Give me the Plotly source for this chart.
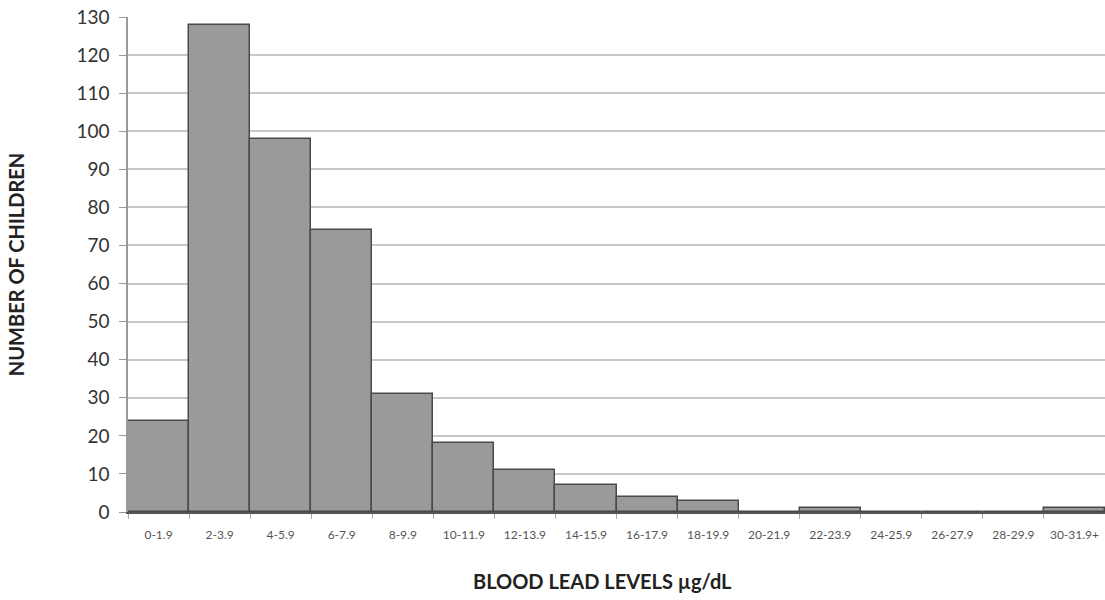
import plotly.graph_objects as go

categories = ["0-1.9", "2-3.9", "4-5.9", "6-7.9", "8-9.9", "10-11.9", "12-13.9", "14-15.9",
              "16-17.9", "18-19.9", "20-21.9", "22-23.9", "24-25.9", "26-27.9", "28-29.9", "30-31.9+"]
children = [24, 128, 98, 74, 31, 18, 11, 7, 4, 3, 0, 1, 0, 0, 0, 1]
y_ticks = list(range(0, 131, 10))

fig = go.Figure()
fig.add_trace(go.Bar(
    x=categories, y=children,
    marker=dict(color="#9a9a9a", line=dict(color="#4a4a4a", width=1.5)),
    hoverinfo="x+y",
))

fig.update_layout(
    width=1105, height=600,
    margin=dict(l=128, r=0, t=17, b=88),
    paper_bgcolor="white", plot_bgcolor="white",
    bargap=0, showlegend=False,
    font=dict(family="Lato, Open Sans, sans-serif", color="#333"),
    annotations=[dict(
        text="<b>BLOOD LEAD LEVELS µg/dL</b>", xref="paper", yref="paper",
        x=0.486, y=0, xanchor="center", yanchor="middle", yshift=-69,
        showarrow=False, font=dict(size=20, color="#222"),
    )],
)
fig.update_xaxes(
    type="category", automargin=False, tickangle=0,
    tickson="boundaries", ticks="outside", ticklen=5, tickcolor="#aaa",
    tickfont=dict(size=12, color="#555"), ticklabelstandoff=11,
    showline=True, linecolor="#555", linewidth=1.5,
    showgrid=False,
)
fig.update_yaxes(
    range=[0, 130], tickvals=y_ticks, automargin=False,
    ticks="outside", ticklen=7, tickcolor="#999",
    tickfont=dict(size=19, color="#333"), ticklabelstandoff=6,
    ticklabeloverflow="allow",
    showline=True, linecolor="#999", linewidth=1.5,
    showgrid=True, gridcolor="#c8c8c8", gridwidth=1.5,
    zeroline=False,
    title=dict(text="<b>NUMBER OF CHILDREN</b>", font=dict(size=20, color="#222"), standoff=46),
)

fig.write_html("out.html", config={"displayModeBar": False},
               post_script="document.body.style.margin='0';")
